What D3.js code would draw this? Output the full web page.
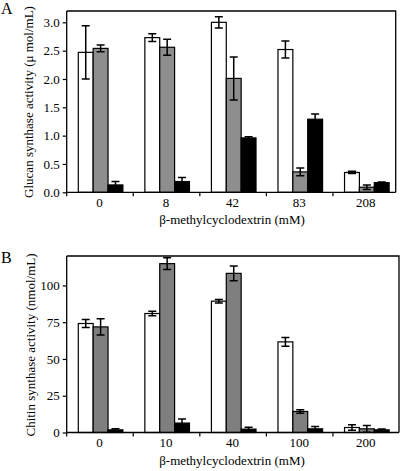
<!DOCTYPE html>
<html>
<head>
<meta charset="utf-8">
<script src="https://cdn.jsdelivr.net/npm/d3@7"></script>
<style>
  html, body { margin: 0; padding: 0; background: #fff; }
  svg { display: block; }
  text { font-family: "Liberation Serif", "Times New Roman", serif; fill: #000; }
</style>
</head>
<body>
<svg id="chart" width="400" height="471"></svg>
<script>
// ---------- Data ----------
const categoriesA = ["0", "8", "42", "83", "208"];
const categoriesB = ["0", "10", "40", "100", "200"];
const seriesKeys = ["white", "gray", "black"];

// Panel A: glucan synthase activity (µmol/mL)
const glucanWhite    = [2.47, 2.73, 3.00, 2.52, 0.35];
const glucanWhiteErr = [0.47, 0.07, 0.10, 0.15, 0.02];
const glucanGray     = [2.54, 2.56, 2.01, 0.36, 0.09];
const glucanGrayErr  = [0.06, 0.14, 0.38, 0.07, 0.04];
const glucanBlack    = [0.13, 0.19, 0.96, 1.29, 0.17];
const glucanBlackErr = [0.06, 0.07, 0.02, 0.09, 0.01];
const ticksA = [0, 0.5, 1.0, 1.5, 2.0, 2.5, 3.0];

// Panel B: chitin synthase activity (nmol/mL)
const chitinWhite    = [74.1, 80.9, 89.3, 61.6, 3.4];
const chitinWhiteErr = [2.7, 1.5, 1.2, 3.0, 1.8];
const chitinGray     = [71.8, 114.8, 108.2, 14.3, 2.5];
const chitinGrayErr  = [5.5, 4.0, 5.0, 1.2, 2.3];
const chitinBlack    = [1.8, 6.4, 2.3, 2.5, 1.8];
const chitinBlackErr = [0.7, 2.7, 1.3, 1.6, 0.6];
const ticksB = [0, 25, 50, 75, 100];

function rows(cats, vals, errs) {
  return cats.map((c, i) => ({
    cat: c,
    bars: seriesKeys.map((k, j) => ({ key: k, v: vals[j][i], e: errs[j][i] }))
  }));
}

const svg = d3.select("#chart");

function panel(opt) {
  const g = svg.append("g");
  const x = d3.scaleBand().domain(opt.cats).range([66.7, 399.5]).paddingInner(0).paddingOuter(0);
  const inner = d3.scaleBand().domain(seriesKeys).range([11.6, 56.2]).padding(0);
  const y = d3.scaleLinear().domain(opt.yDomain).range([opt.bottom, opt.top]);
  const fills = { white: "#ffffff", gray: opt.gray, black: "#000000" };

  // box (top and right)
  g.append("path")
    .attr("d", `M66.7,${opt.top}H${opt.right}V${opt.bottom}`)
    .attr("fill", "none").attr("stroke", "#000").attr("stroke-width", 1.3);

  // bars
  const data = rows(opt.cats, opt.vals, opt.errs);
  const grp = g.selectAll("g.grp").data(data).join("g")
    .attr("transform", d => `translate(${x(d.cat)},0)`);
  grp.selectAll("rect").data(d => d.bars).join("rect")
    .attr("x", d => inner(d.key))
    .attr("y", d => y(d.v))
    .attr("width", inner.bandwidth())
    .attr("height", d => y(0) - y(d.v))
    .attr("fill", d => fills[d.key])
    .attr("stroke", "#000").attr("stroke-width", 1.2);

  // error bars
  const cap = 4;
  const eb = grp.selectAll("g.eb").data(d => d.bars).join("g")
    .attr("transform", d => `translate(${inner(d.key) + inner.bandwidth() / 2},0)`);
  eb.append("path")
    .attr("d", d => {
      const y1 = y(Math.max(0, d.v - d.e)), y2 = y(d.v + d.e);
      return `M0,${y1}V${y2}M${-cap},${y1}H${cap}M${-cap},${y2}H${cap}`;
    })
    .attr("fill", "none").attr("stroke", "#000").attr("stroke-width", 1.5);

  // y axis
  const ya = g.append("g").attr("transform", "translate(66.7,0)")
    .call(d3.axisLeft(y).tickValues(opt.ticks).tickFormat(opt.fmt).tickSize(4).tickPadding(3));
  ya.select(".domain").attr("d", `M0,${opt.top}V${opt.bottom}`).attr("stroke-width", 1.3);
  ya.selectAll("text").style("font-size", "13px").style("font-family", "Liberation Serif");
  ya.selectAll(".tick line").attr("stroke-width", 1.2);

  // x axis with ticks at band boundaries
  const xa = g.append("g").attr("transform", `translate(0,${opt.bottom})`);
  xa.append("path").attr("d", `M66.7,0H${opt.right}`).attr("stroke", "#000").attr("stroke-width", 1.3);
  const bounds = opt.cats.map(c => x(c));
  xa.selectAll("line.bt").data(bounds).join("line")
    .attr("x1", d => d).attr("x2", d => d).attr("y1", 0).attr("y2", 4)
    .attr("stroke", "#000").attr("stroke-width", 1.2);
  xa.selectAll("text.lab").data(opt.cats).join("text")
    .attr("x", d => x(d) + x.bandwidth() / 2 - 0.5)
    .attr("y", opt.tickLabY - opt.bottom)
    .attr("text-anchor", "middle")
    .style("font-size", "13px")
    .text(d => d);

  // axis titles
  g.append("text")
    .attr("transform", `translate(${opt.yTitleX},${opt.yTitleY}) rotate(-90)`)
    .attr("text-anchor", "middle")
    .style("font-size", "13px")
    .text(opt.yTitle);
  g.append("text")
    .attr("x", 232).attr("y", opt.xTitleY)
    .attr("text-anchor", "middle")
    .style("font-size", "13px")
    .text("β-methylcyclodextrin (mM)");

  // panel letter
  g.append("text").attr("x", 1).attr("y", opt.letterY)
    .style("font-size", "16px").text(opt.letter);
}

panel({
  cats: categoriesA,
  vals: [glucanWhite, glucanGray, glucanBlack],
  errs: [glucanWhiteErr, glucanGrayErr, glucanBlackErr],
  yDomain: [0, 3.2], top: 11, bottom: 192.3, right: 395.7,
  ticks: ticksA, fmt: d3.format(".1f"),
  gray: "#8e8e8e",
  tickLabY: 207.5, xTitleY: 224,
  yTitle: "Glucan synthase activity (μ mol/mL)", yTitleX: 33, yTitleY: 102,
  letter: "A", letterY: 14
});

panel({
  cats: categoriesB,
  vals: [chitinWhite, chitinGray, chitinBlack],
  errs: [chitinWhiteErr, chitinGrayErr, chitinBlackErr],
  yDomain: [0, 120], top: 256, bottom: 432.5, right: 399,
  ticks: ticksB, fmt: d3.format("d"),
  gray: "#7f7f7f",
  tickLabY: 447, xTitleY: 465,
  yTitle: "Chitin synthase activity (nmol/mL)", yTitleX: 35, yTitleY: 345,
  letter: "B", letterY: 263
});
</script>
</body>
</html>
